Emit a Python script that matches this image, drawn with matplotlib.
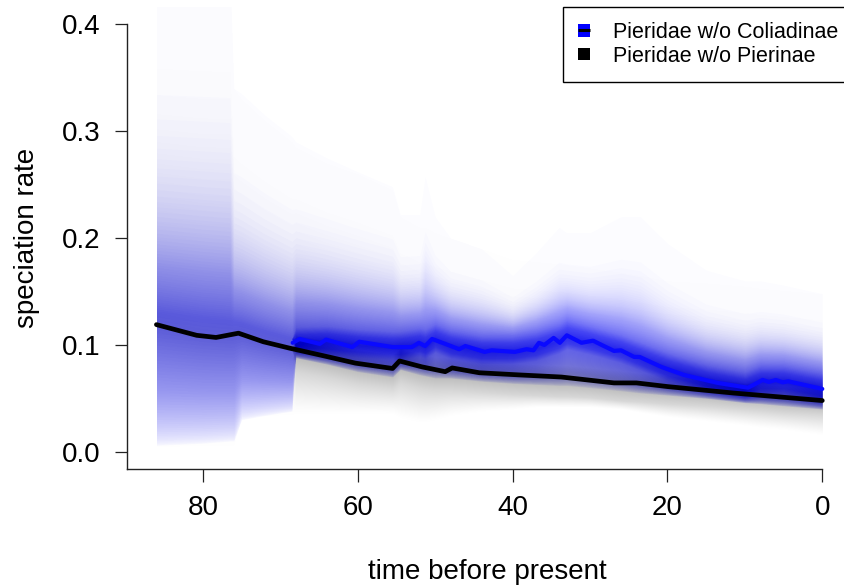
import numpy as np
import matplotlib
matplotlib.use("Agg")
import matplotlib.pyplot as plt
from matplotlib.patches import Rectangle, Patch
from matplotlib.lines import Line2D
from matplotlib.legend_handler import HandlerBase

plt.rcParams['font.family'] = ['Liberation Sans', 'DejaVu Sans']

# ---------------- data ----------------
series_names = ["Pieridae w/o Coliadinae", "Pieridae w/o Pierinae"]

# mean rate lines
blue_t = [68.4, 67.5, 64.9, 64.1, 60.7, 59.8, 55.5, 53.0, 52.1, 51.3, 50.4, 48.7, 46.9, 46.1,
          43.6, 42.7, 39.7, 38.2, 37.3, 36.6, 35.9, 34.7, 33.9, 33.0, 31.1, 29.6, 28.5, 26.9,
          26.0, 24.3, 23.6, 20.8, 17.9, 13.5, 9.6, 8.9, 7.7, 6.9, 6.0, 5.1, 4.4, 0.0]
blue_rate = [0.102, 0.1056, 0.101, 0.105, 0.098, 0.103, 0.098, 0.098, 0.102, 0.099, 0.1056,
             0.101, 0.096, 0.099, 0.0935, 0.095, 0.0935, 0.096, 0.095, 0.102, 0.100, 0.1066,
             0.102, 0.109, 0.102, 0.104, 0.100, 0.0944, 0.095, 0.0888, 0.0888, 0.0795, 0.072,
             0.0645, 0.060, 0.0626, 0.0673, 0.0654, 0.0673, 0.065, 0.066, 0.0589]

black_t = [86.0, 80.8, 78.3, 75.4, 72.2, 68.8, 64.5, 60.3, 55.5, 54.6, 51.7, 48.7, 47.8, 44.3,
           39.2, 33.7, 26.9, 24.0, 19.9, 11.4, 0.0]
black_rate = [0.119, 0.109, 0.107, 0.111, 0.103, 0.097, 0.090, 0.083, 0.078, 0.085, 0.0795,
              0.075, 0.0785, 0.074, 0.072, 0.070, 0.0645, 0.0645, 0.061, 0.055, 0.048]

# quantile envelopes (outer / inner / centre) on a shared time grid
band_t = [86, 80, 76.5, 76, 75, 72, 68.5, 68, 64, 60, 55.5, 54.5, 52, 51.3, 50, 48, 44, 40,
          37, 34, 33, 30, 26, 23.5, 20, 15, 10, 8, 5, 0]

blue_mid = [0.130, 0.125, 0.122, 0.122, 0.120, 0.113, 0.106, 0.102, 0.103, 0.100, 0.098, 0.098,
            0.101, 0.099, 0.105, 0.099, 0.094, 0.094, 0.097, 0.104, 0.108, 0.103, 0.095, 0.088,
            0.078, 0.067, 0.060, 0.066, 0.066, 0.059]
blue_hi_in = [0.130, 0.125, 0.122, 0.122, 0.120, 0.113, 0.106, 0.117, 0.118, 0.115, 0.113,
              0.113, 0.116, 0.115, 0.120, 0.114, 0.109, 0.109, 0.113, 0.120, 0.124, 0.118,
              0.110, 0.103, 0.093, 0.082, 0.075, 0.081, 0.081, 0.074]
blue_hi_out = [0.450, 0.450, 0.450, 0.340, 0.335, 0.315, 0.295, 0.290, 0.275, 0.262, 0.248,
               0.222, 0.222, 0.258, 0.220, 0.200, 0.190, 0.165, 0.186, 0.210, 0.205, 0.205,
               0.220, 0.220, 0.195, 0.170, 0.160, 0.160, 0.156, 0.148]
blue_lo_in = [0.130, 0.125, 0.122, 0.122, 0.120, 0.113, 0.106, 0.093, 0.091, 0.088, 0.086,
              0.086, 0.089, 0.087, 0.093, 0.087, 0.082, 0.082, 0.085, 0.092, 0.096, 0.091,
              0.083, 0.076, 0.066, 0.057, 0.051, 0.054, 0.054, 0.047]
blue_lo_out = [0.006, 0.008, 0.010, 0.010, 0.030, 0.034, 0.038, 0.088, 0.082, 0.075, 0.070,
               0.077, 0.072, 0.071, 0.069, 0.069, 0.066, 0.064, 0.063, 0.062, 0.062, 0.060,
               0.057, 0.055, 0.053, 0.050, 0.046, 0.045, 0.043, 0.040]

grey_mid = [0.119, 0.109, 0.108, 0.109, 0.110, 0.103, 0.097, 0.096, 0.090, 0.083, 0.078, 0.085,
            0.080, 0.079, 0.077, 0.077, 0.074, 0.072, 0.071, 0.070, 0.070, 0.068, 0.065, 0.063,
            0.061, 0.058, 0.054, 0.053, 0.051, 0.048]
grey_hi_in = [0.119, 0.109, 0.108, 0.109, 0.110, 0.103, 0.097, 0.110, 0.104, 0.096, 0.091,
              0.097, 0.092, 0.091, 0.089, 0.088, 0.085, 0.083, 0.082, 0.081, 0.081, 0.079,
              0.076, 0.074, 0.072, 0.069, 0.065, 0.064, 0.062, 0.059]
grey_hi_out = [0.450, 0.450, 0.450, 0.340, 0.330, 0.310, 0.290, 0.285, 0.270, 0.260, 0.245,
               0.220, 0.210, 0.210, 0.205, 0.200, 0.190, 0.180, 0.178, 0.176, 0.175, 0.172,
               0.168, 0.165, 0.160, 0.158, 0.155, 0.153, 0.151, 0.148]
grey_lo_in = [0.119, 0.109, 0.108, 0.109, 0.110, 0.103, 0.097, 0.075, 0.070, 0.064, 0.060,
              0.065, 0.060, 0.059, 0.058, 0.058, 0.056, 0.054, 0.053, 0.052, 0.052, 0.051,
              0.048, 0.047, 0.045, 0.043, 0.040, 0.039, 0.037, 0.035]
grey_lo_out = [0.005, 0.006, 0.006, 0.006, 0.033, 0.034, 0.035, 0.036, 0.036, 0.036, 0.036,
               0.032, 0.028, 0.028, 0.030, 0.034, 0.038, 0.040, 0.042, 0.042, 0.042, 0.042,
               0.040, 0.037, 0.033, 0.029, 0.025, 0.023, 0.021, 0.016]

x_ticks = [80, 60, 40, 20, 0]
y_ticks = [0.0, 0.1, 0.2, 0.3, 0.4]
x_label = "time before present"
y_label = "speciation rate"

# ---------------- figure ----------------
W, H = 845, 588
fig = plt.figure(figsize=(W / 100, H / 100), dpi=100)
ax_left, ax_right, ax_top, ax_bottom = 127, 849, 7, 469
ax = fig.add_axes([ax_left / W, 1 - ax_bottom / H, (ax_right - ax_left) / W, (ax_bottom - ax_top) / H])
ax.set_xlim(89.8, -3.45)
ax.set_ylim(-0.016, 0.416)


def draw_band(t, lo_out, lo_in, mid, hi_in, hi_out, color, alpha, n_out, n_in, p_hi, p_lo):
    """Layered translucent polygons (BAMM-style quantile shading)."""
    t = np.asarray(t, float)
    lo_out, lo_in, mid = map(np.asarray, (lo_out, lo_in, mid))
    hi_in, hi_out = map(np.asarray, (hi_in, hi_out))
    for k in range(n_out):
        f = k / n_out
        lo = lo_out + (lo_in - lo_out) * f ** p_lo
        hi = hi_out + (hi_in - hi_out) * f ** p_hi
        ax.fill_between(t, lo, hi, color=color, alpha=alpha, lw=0, zorder=1)
    for k in range(n_in):
        g = k / n_in
        lo = lo_in + (mid - lo_in) * g
        hi = hi_in + (mid - hi_in) * g
        ax.fill_between(t, lo, hi, color=color, alpha=alpha, lw=0, zorder=1)


draw_band(band_t, blue_lo_out, blue_lo_in, blue_mid, blue_hi_in, blue_hi_out,
          '#0000ff', 0.01, 50, 46, 0.26, 1.6)
draw_band(band_t, grey_lo_out, grey_lo_in, grey_mid, grey_hi_in, grey_hi_out,
          'black', 0.0045, 40, 40, 0.35, 0.8)

ax.plot(black_t, black_rate, color='black', lw=3.4, solid_capstyle='round', zorder=3)
ax.plot(blue_t, blue_rate, color='#0a0aff', lw=3.0, solid_capstyle='round', zorder=4)

# axes styling (R-like)
for s in ('top', 'right'):
    ax.spines[s].set_visible(False)
ax.spines['left'].set_bounds(-0.016, 0.4)
ax.spines['bottom'].set_bounds(89.8, 0)
for s in ('left', 'bottom'):
    ax.spines[s].set_linewidth(1.0)
    ax.spines[s].set_color('#222222')
ax.set_xticks(x_ticks)
ax.set_xticklabels([str(v) for v in x_ticks])
ax.set_yticks(y_ticks)
ax.set_yticklabels([f"{v:.1f}" for v in y_ticks])
ax.tick_params(axis='both', length=9, width=0.9, color='#222222', labelsize=20)
ax.tick_params(axis='y', pad=10)
ax.tick_params(axis='x', pad=10)
ax.set_facecolor('white')

fig.text(27 / W, 1 - 238 / H, y_label, rotation=90, ha='center', va='center', fontsize=20)
fig.text(487 / W, 1 - 572 / H, x_label, ha='center', va='center', fontsize=20)


class SquareHandler(HandlerBase):
    def __init__(self, face, bar):
        super().__init__()
        self.face = face
        self.bar = bar

    def create_artists(self, legend, orig_handle, xdescent, ydescent, width, height,
                       fontsize, trans):
        s = width
        x0 = -xdescent
        y0 = -ydescent + (height - s) / 2
        arts = [Rectangle((x0, y0), s, s, facecolor=self.face, edgecolor='none', transform=trans)]
        if self.bar:
            arts.append(Line2D([x0, x0 + s], [y0 + s / 2, y0 + s / 2], color='black',
                               lw=2.2, transform=trans, solid_capstyle='butt'))
        return arts


h_blue = Patch()
h_black = Patch()
leg = fig.legend([h_blue, h_black], series_names, loc='upper left',
                 bbox_to_anchor=(563 / W, 1 - 7 / H),
                 borderaxespad=0, fontsize=15.5, frameon=True, fancybox=False,
                 handlelength=0.56, handleheight=0.6, handletextpad=1.05,
                 borderpad=0.7, labelspacing=0.12,
                 handler_map={h_blue: SquareHandler('#0000ff', True),
                              h_black: SquareHandler('black', False)})
leg.get_frame().set_edgecolor('black')
leg.get_frame().set_linewidth(1.0)
leg.get_frame().set_alpha(1)

fig.savefig("out.png", dpi=100)
